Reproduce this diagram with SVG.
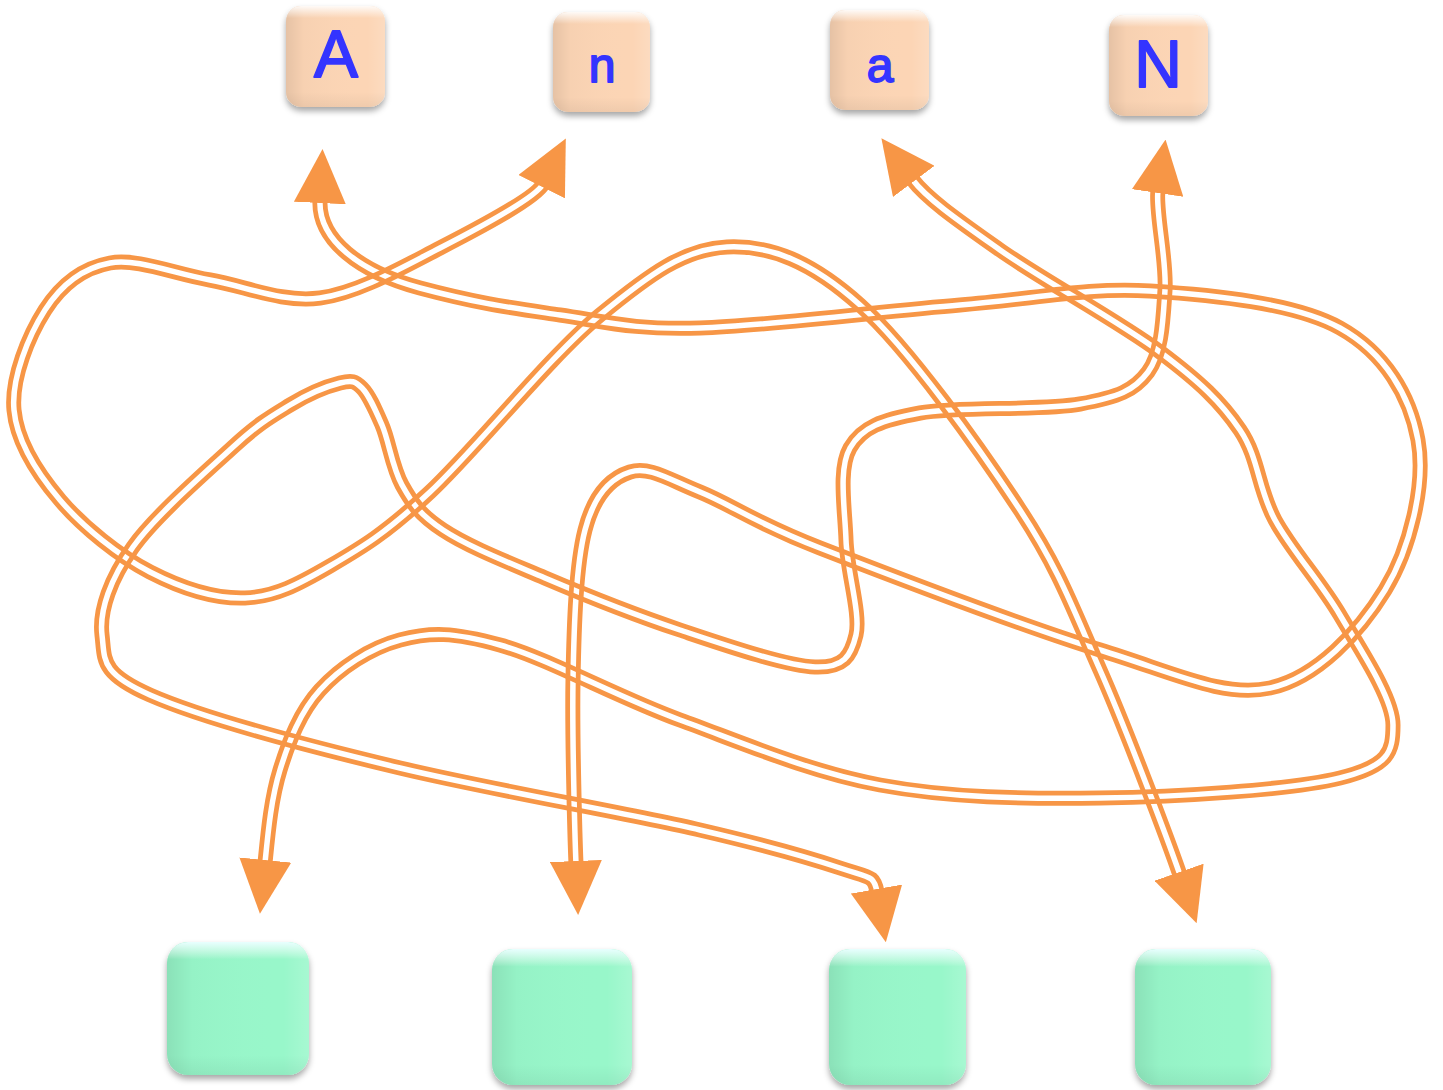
<svg xmlns="http://www.w3.org/2000/svg" xmlns:xlink="http://www.w3.org/1999/xlink" width="1443" height="1090" viewBox="0 0 1443 1090">
<style>
.peach{fill:#FCD5B5;filter:url(#sh)}
.mint{fill:#98F7CA;filter:url(#sh)}
.side{fill:url(#gH)}
.hiP{fill:url(#gVP)}
.hiM{fill:url(#gVM)}
.lbl{font-family:"Liberation Sans","DejaVu Sans",sans-serif;fill:#3434FF;stroke:#3434FF;stroke-width:1.8;stroke-linejoin:round;text-anchor:middle}
.line{fill:none;stroke:#F79646;stroke-width:15}
.tips{fill:none;stroke:none;marker-start:url(#arr);marker-end:url(#arr)}
.cut{fill:none;stroke:#000;stroke-width:5.5}
</style>
<defs>
<filter id="sh" x="-20%" y="-20%" width="140%" height="150%">
<feDropShadow dx="0" dy="4" stdDeviation="3" flood-color="#000" flood-opacity="0.35"/>
</filter>
<linearGradient id="gH" x1="0" y1="0" x2="1" y2="0">
<stop offset="0" stop-color="#000" stop-opacity="0.09"/>
<stop offset="0.18" stop-color="#000" stop-opacity="0.02"/>
<stop offset="0.82" stop-color="#fff" stop-opacity="0"/>
<stop offset="1" stop-color="#fff" stop-opacity="0.15"/>
</linearGradient>
<linearGradient id="gVP" x1="0" y1="0" x2="0" y2="1">
<stop offset="0" stop-color="#fff" stop-opacity="0.9"/>
<stop offset="0.12" stop-color="#fff" stop-opacity="0"/>
<stop offset="0.85" stop-color="#000" stop-opacity="0"/>
<stop offset="1" stop-color="#000" stop-opacity="0.05"/>
</linearGradient>
<linearGradient id="gVM" x1="0" y1="0" x2="0" y2="1">
<stop offset="0" stop-color="#E8FFFF" stop-opacity="1"/>
<stop offset="0.13" stop-color="#fff" stop-opacity="0"/>
<stop offset="0.85" stop-color="#000" stop-opacity="0"/>
<stop offset="1" stop-color="#000" stop-opacity="0.05"/>
</linearGradient>
<marker id="arr" viewBox="0 0 54 52" refX="3" refY="26" markerWidth="54" markerHeight="52" markerUnits="userSpaceOnUse" orient="auto-start-reverse">
<path d="M0,0 L54,26 L0,52 Z" fill="#F79646"/>
</marker>
<path id="p1" d="M320,200 C318,240 360,272 420,288 S513,308 560,315 S633,330 700,328 S885,311 960,305 S1087,287 1150,291 S1295,303 1340,328 S1410,396 1418,440 S1410,549 1385,590 S1317,678 1270,688 S1175,673 1100,650 S887,574 820,548 S732,505 700,492 S649,466 630,472 S594,495 585,530 S574,624 573,680 S575,840 576,864"/>
<path id="p2" d="M543,184 C536,198 477,229 440,248 S358,293 320,298 S245,286 210,280 S137,258 110,263 S61,285 45,310 S11,378 14,410 S37,473 60,500 S119,556 150,572 S215,599 245,598 S299,584 330,566 S385,534 430,492 S550,356 600,315 S684,249 727,247 S811,261 860,305 S980,449 1020,510 S1073,609 1100,670 S1170,846 1180,875"/>
<path id="p3" d="M912,179 C927,199 959,221 1000,250 S1120,322 1160,352 S1221,402 1240,430 S1258,489 1275,520 S1320,581 1340,615 S1393,698 1393,725 S1389,766 1340,778 S1177,797 1100,798 S950,798 880,785 S743,743 680,720 S547,658 500,645 S430,632 400,640 S340,668 320,690 S289,741 280,770 S268,833 265,863"/>
<path id="p4" d="M1158,190 C1155,210 1167,260 1165,290 S1162,353 1148,372 S1118,397 1080,404 S958,406 920,413 S862,427 850,448 S845,509 846,540 S861,614 856,635 S844,668 815,667 S725,645 680,630 S585,595 545,578 S467,546 443,530 S412,503 402,485 S389,441 382,425 S369,395 362,388 S352,380 340,383 S308,394 290,405 S259,423 233,447 S155,516 133,547 S99,610 102,635 S100,673 150,695 S308,746 400,768 S627,813 700,830 S810,858 840,868 S874,875 877,892"/>
<mask id="m1" maskUnits="userSpaceOnUse" x="0" y="0" width="1443" height="1090"><rect width="1443" height="1090" fill="#fff"/><use href="#p1" class="cut"/></mask>
<mask id="m2" maskUnits="userSpaceOnUse" x="0" y="0" width="1443" height="1090"><rect width="1443" height="1090" fill="#fff"/><use href="#p2" class="cut"/></mask>
<mask id="m3" maskUnits="userSpaceOnUse" x="0" y="0" width="1443" height="1090"><rect width="1443" height="1090" fill="#fff"/><use href="#p3" class="cut"/></mask>
<mask id="m4" maskUnits="userSpaceOnUse" x="0" y="0" width="1443" height="1090"><rect width="1443" height="1090" fill="#fff"/><use href="#p4" class="cut"/></mask>
</defs>
<rect width="1443" height="1090" fill="#fff"/>
<g id="connectors">
<g id="e1"><use href="#p1" class="line" mask="url(#m1)"/><use href="#p1" class="tips"/></g>
<g id="e2"><use href="#p2" class="line" mask="url(#m2)"/><use href="#p2" class="tips"/></g>
<g id="e3"><use href="#p3" class="line" mask="url(#m3)"/><use href="#p3" class="tips"/></g>
<g id="e4"><use href="#p4" class="line" mask="url(#m4)"/><use href="#p4" class="tips"/></g>
</g>
<g id="nA"><rect class="peach" x="286" y="6" width="99" height="101" rx="15"/><rect class="side" x="286" y="6" width="99" height="101" rx="15"/><rect class="hiP" x="286" y="6" width="99" height="101" rx="15"/><text class="lbl" x="336" y="77" font-size="66">A</text></g>
<g id="nn"><rect class="peach" x="553" y="12" width="97" height="100" rx="15"/><rect class="side" x="553" y="12" width="97" height="100" rx="15"/><rect class="hiP" x="553" y="12" width="97" height="100" rx="15"/><text class="lbl" x="602" y="82" font-size="48">n</text></g>
<g id="na"><rect class="peach" x="830" y="10" width="99" height="100" rx="15"/><rect class="side" x="830" y="10" width="99" height="100" rx="15"/><rect class="hiP" x="830" y="10" width="99" height="100" rx="15"/><text class="lbl" x="880" y="82" font-size="48">a</text></g>
<g id="nN"><rect class="peach" x="1109" y="15" width="99" height="101" rx="15"/><rect class="side" x="1109" y="15" width="99" height="101" rx="15"/><rect class="hiP" x="1109" y="15" width="99" height="101" rx="15"/><text class="lbl" x="1158" y="87" font-size="66">N</text></g>
<g id="b1"><rect class="mint" x="167" y="942" width="142" height="133" rx="21"/><rect class="side" x="167" y="942" width="142" height="133" rx="21"/><rect class="hiM" x="167" y="942" width="142" height="133" rx="21"/></g>
<g id="b2"><rect class="mint" x="492" y="949" width="140" height="136" rx="21"/><rect class="side" x="492" y="949" width="140" height="136" rx="21"/><rect class="hiM" x="492" y="949" width="140" height="136" rx="21"/></g>
<g id="b3"><rect class="mint" x="829" y="949" width="137" height="136" rx="21"/><rect class="side" x="829" y="949" width="137" height="136" rx="21"/><rect class="hiM" x="829" y="949" width="137" height="136" rx="21"/></g>
<g id="b4"><rect class="mint" x="1135" y="949" width="136" height="136" rx="21"/><rect class="side" x="1135" y="949" width="136" height="136" rx="21"/><rect class="hiM" x="1135" y="949" width="136" height="136" rx="21"/></g>
</svg>
